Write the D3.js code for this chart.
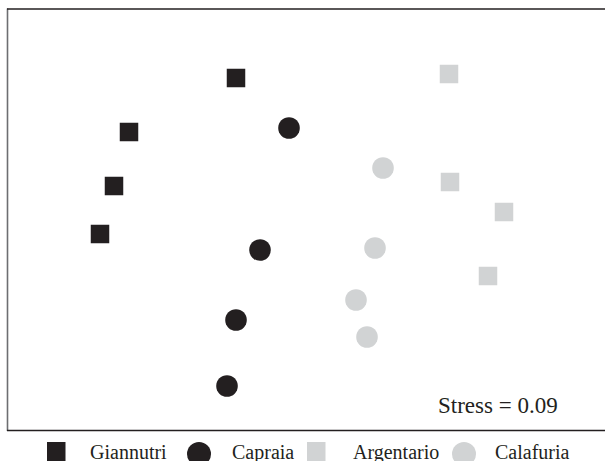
<!DOCTYPE html>
<html><head><meta charset="utf-8">
<script src="https://cdn.jsdelivr.net/npm/d3@7"></script>
<style>html,body{margin:0;padding:0;background:#fff;overflow:hidden}</style>
</head><body>
<script>
const groups = ["Giannutri", "Capraia", "Argentario", "Calafuria"];
const shapes = ["square", "circle", "square", "circle"];
const colors = ["#231f20", "#231f20", "#d1d3d4", "#d1d3d4"];
const giannutriX = [-0.64, -1.71, -1.86, -2.00];
const giannutriY = [1.52, 0.98, 0.44, -0.04];
const capraiaX = [-0.11, -0.40, -0.64, -0.73];
const capraiaY = [1.02, -0.20, -0.90, -1.56];
const argentarioX = [1.49, 1.50, 2.04, 1.88];
const argentarioY = [1.56, 0.48, 0.18, -0.46];
const calafuriaX = [0.83, 0.75, 0.56, 0.67];
const calafuriaY = [0.62, -0.18, -0.70, -1.07];
const stressLabel = "Stress = 0.09";

const seriesX = [giannutriX, capraiaX, argentarioX, calafuriaX];
const seriesY = [giannutriY, capraiaY, argentarioY, calafuriaY];

const W = 605, H = 461;
const svg = d3.select("body").append("svg").attr("width", W).attr("height", H);
const x = d3.scaleLinear().domain([-3, 3]).range([0, 600]);
const y = d3.scaleLinear().domain([-2.3, 2.3]).range([460, 0]);

// frame
svg.append("line").attr("x1", 7.5).attr("x2", 7.5).attr("y1", 8.5).attr("y2", 431)
  .attr("stroke", "#6d6e71").attr("stroke-width", 1.6);
svg.append("line").attr("x1", 7).attr("x2", W).attr("y1", 9).attr("y2", 9)
  .attr("stroke", "#231f20").attr("stroke-width", 1.4);
svg.append("line").attr("x1", 7).attr("x2", W).attr("y1", 430.5).attr("y2", 430.5)
  .attr("stroke", "#231f20").attr("stroke-width", 1.4);

const SQ = 18.5, R = 10.8;
groups.forEach((g, i) => {
  const pts = seriesX[i].map((v, j) => ({x: v, y: seriesY[i][j]}));
  const gg = svg.append("g");
  if (shapes[i] === "square") {
    gg.selectAll("rect").data(pts).join("rect")
      .attr("x", d => x(d.x) - SQ / 2).attr("y", d => y(d.y) - SQ / 2)
      .attr("width", SQ).attr("height", SQ).attr("fill", colors[i]);
  } else {
    gg.selectAll("circle").data(pts).join("circle")
      .attr("cx", d => x(d.x)).attr("cy", d => y(d.y)).attr("r", R).attr("fill", colors[i]);
  }
});

svg.append("text").attr("x", 438).attr("y", 413)
  .attr("font-family", "'Liberation Serif', 'Times New Roman', serif")
  .attr("font-size", 23).attr("fill", "#231f20").text(stressLabel);

// legend
const legX = [47, 187, 307, 452];
const textX = [90, 232, 353, 495];
groups.forEach((g, i) => {
  if (shapes[i] === "square") {
    svg.append("rect").attr("x", legX[i]).attr("y", 442).attr("width", 18.5).attr("height", 20)
      .attr("fill", colors[i]);
  } else {
    svg.append("circle").attr("cx", legX[i] + 12).attr("cy", 454).attr("r", 12).attr("fill", colors[i]);
  }
  svg.append("text").attr("x", textX[i]).attr("y", 458.5)
    .attr("font-family", "'Liberation Serif', 'Times New Roman', serif")
    .attr("font-size", 20).attr("fill", "#231f20").text(g);
});
</script>
</body></html>
